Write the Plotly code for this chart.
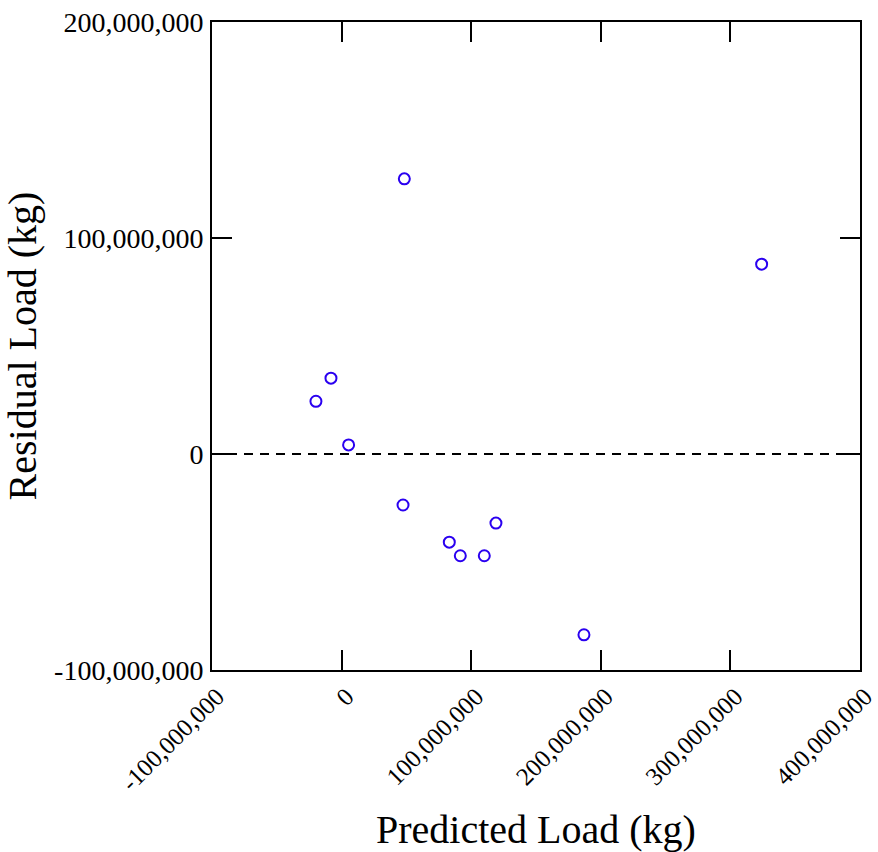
import plotly.graph_objects as go

# Predicted load vs residual load (kg)
predicted = [48.4e6, 324.1e6, -8.2e6, -19.8e6, 5.4e6, 47.4e6, 83.1e6, 91.6e6, 110.1e6, 119.1e6, 187.0e6]
residual = [127.4e6, 87.9e6, 35.1e6, 24.4e6, 4.2e6, -23.6e6, -40.8e6, -47.1e6, -47.1e6, -32.0e6, -83.7e6]

x_ticks = [-100e6, 0, 100e6, 200e6, 300e6, 400e6]
x_labels = ["-100,000,000", "0", "100,000,000", "200,000,000", "300,000,000", "400,000,000"]
y_ticks = [-100e6, 0, 100e6, 200e6]
y_labels = ["-100,000,000", "0", "100,000,000", "200,000,000"]

FONT = "Liberation Serif, Times New Roman, serif"

fig = go.Figure()

# zero reference line
fig.add_trace(go.Scatter(
    x=[x_ticks[0], x_ticks[-1]], y=[0, 0], mode="lines",
    line=dict(color="black", width=2, dash="9px,7px"),
    hoverinfo="skip", showlegend=False,
))

fig.add_trace(go.Scatter(
    x=predicted, y=residual, mode="markers",
    marker=dict(symbol="circle-open", size=11, color="#2a00f0",
                line=dict(width=2, color="#2a00f0")),
    showlegend=False,
))

axis_common = dict(
    showline=True, linecolor="black", linewidth=2, mirror="ticks",
    ticks="inside", ticklen=20, tickwidth=2, tickcolor="black",
    showgrid=False, zeroline=False, ticklabeloverflow="allow",
)

fig.update_layout(
    width=878, height=852,
    margin=dict(l=212, r=18, t=22, b=182, autoexpand=False),
    paper_bgcolor="white", plot_bgcolor="white",
    font=dict(family=FONT, color="black"),
    xaxis=dict(
        range=[x_ticks[0], x_ticks[-1]], tickvals=x_ticks, ticktext=x_labels,
        tickangle=-45, automargin=False, ticklabelshift=5,
        tickfont=dict(family=FONT, size=25, color="black"),
        title=dict(text="Predicted Load (kg)", font=dict(family=FONT, size=40), standoff=20),
        **axis_common,
    ),
    yaxis=dict(
        range=[y_ticks[0], y_ticks[-1]], tickvals=y_ticks, ticktext=y_labels,
        automargin=False, ticklabelstandoff=1,
        tickfont=dict(family=FONT, size=28, color="black"),
        title=dict(text="Residual Load (kg)", font=dict(family=FONT, size=40), standoff=10),
        **axis_common,
    ),
)

fig.write_html("out.html")
